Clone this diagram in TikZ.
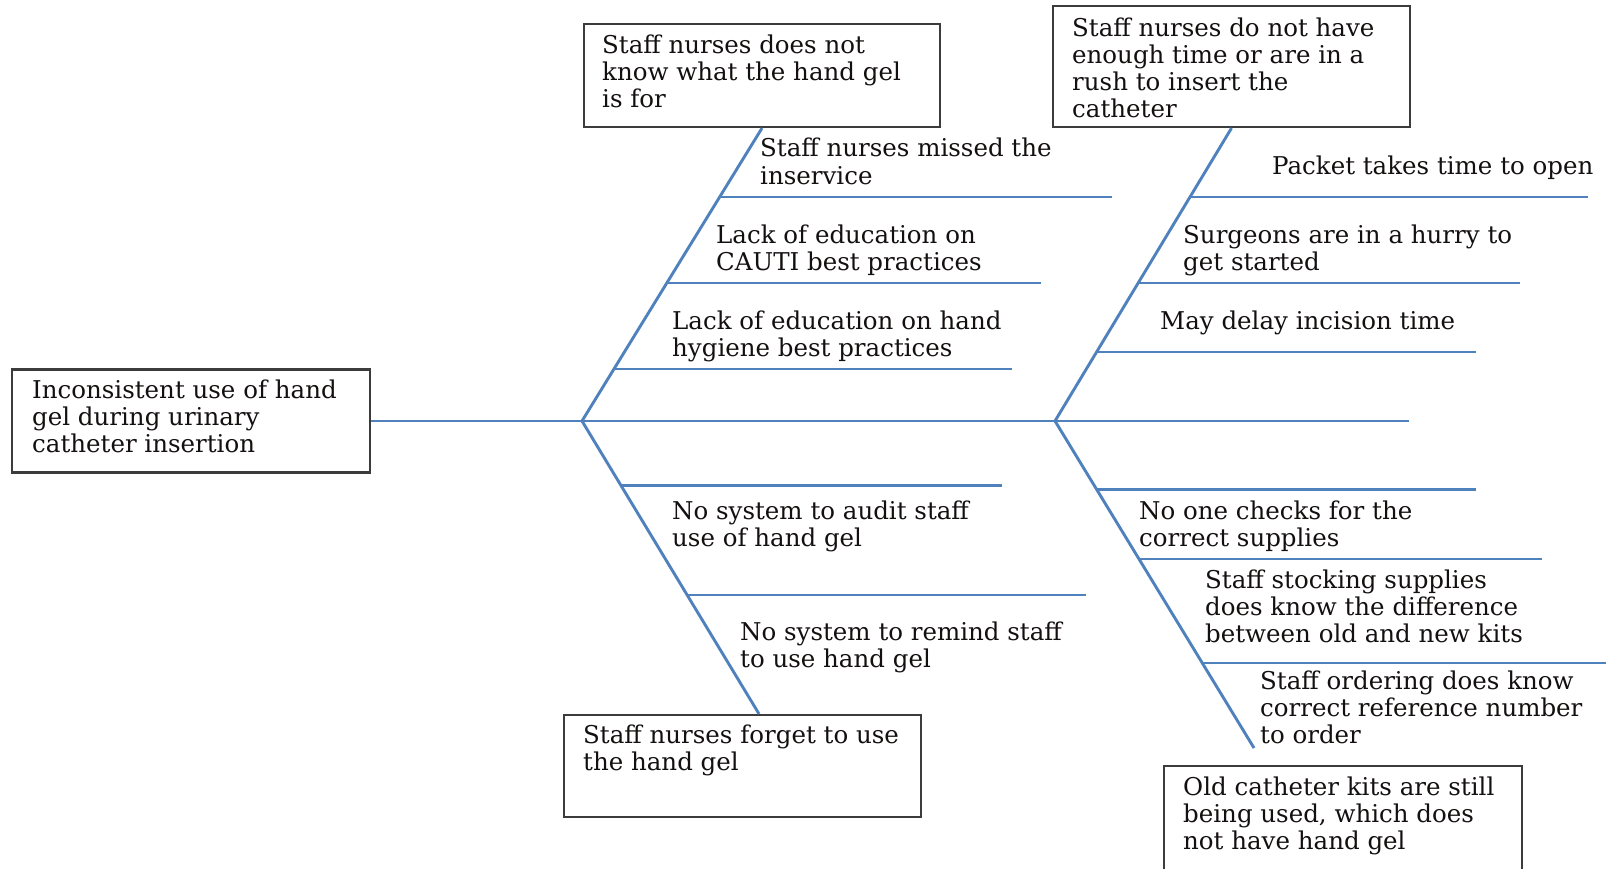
\documentclass[tikz,border=0pt]{standalone}
\usepackage{fontspec}
\setmainfont{DejaVu Serif}
\usetikzlibrary{calc}
\definecolor{bone}{RGB}{79,129,189}
\definecolor{boxline}{RGB}{60,60,60}
\definecolor{txt}{RGB}{20,16,16}
\begin{document}
\begin{tikzpicture}[x=1pt,y=-1pt,
  every node/.style={font=\fontsize{24.5}{27.2}\selectfont, text=txt},
  causebox/.style={draw=boxline, line width=2.2pt, inner sep=0pt, fill=white},
  lbl/.style={anchor=base west, align=left, inner sep=0pt},
  boneline/.style={draw=bone, line width=2.9pt},
  rib/.style={draw=bone, line width=2.9pt}]
\useasboundingbox (0,0) rectangle (1606,869);
% boxes
\node[causebox, minimum width=358pt, minimum height=103pt] (head) at (191,421) {};
\node[causebox, minimum width=356pt, minimum height=103pt] (bUL) at (762,75.5) {};
\node[causebox, minimum width=357pt, minimum height=121pt] (bUR) at (1231.5,66.5) {};
\node[causebox, minimum width=357pt, minimum height=102pt] (bLL) at (742.5,766) {};
\node[causebox, minimum width=358pt, minimum height=108pt] (bLR) at (1343,820) {};
% box texts (anchor = baseline of last line)
\node[lbl] (tHead) at (32,452.9) {Inconsistent use of hand\\gel during urinary\\catheter insertion};
\node[lbl] (tUL) at (602,107.9) {Staff nurses does not\\know what the hand gel\\is for};
\node[lbl] (tUR) at (1072,117.7) {Staff nurses do not have\\enough time or are in a\\rush to insert the\\catheter};
\node[lbl] (tLL) at (583,770.7) {Staff nurses forget to use\\the hand gel};
\node[lbl] (tLR) at (1183,849.4) {Old catheter kits are still\\being used, which does\\not have hand gel};
% spine
\coordinate (J1) at (582,421);
\coordinate (J2) at (1055,421);
\coordinate (spineEnd) at (1409,421);
\draw[boneline] (head.east) -- (J1) -- (J2) -- (spineEnd);
% bones
\coordinate (LLend) at ([xshift=16.5pt]bLL.north);
\coordinate (LRend) at (1254,748);
\draw[boneline] (J1) -- (bUL.south);
\draw[boneline] (J2) -- (bUR.south);
\draw[boneline] (J1) -- (LLend);
\draw[boneline] (J2) -- (LRend);
% ribs upper left
\coordinate (r1a) at (719,197); \coordinate (r1b) at (1112,197);
\coordinate (r2a) at (666,283); \coordinate (r2b) at (1041,283);
\coordinate (r3a) at (614,369); \coordinate (r3b) at (1012,369);
\draw[rib] (r1a) -- (r1b); \draw[rib] (r2a) -- (r2b); \draw[rib] (r3a) -- (r3b);
% ribs upper right
\coordinate (r4a) at (1189,197); \coordinate (r4b) at (1588,197);
\coordinate (r5a) at (1139,283); \coordinate (r5b) at (1520,283);
\coordinate (r6a) at (1097,352); \coordinate (r6b) at (1476,352);
\draw[rib] (r4a) -- (r4b); \draw[rib] (r5a) -- (r5b); \draw[rib] (r6a) -- (r6b);
% ribs lower left
\coordinate (r7a) at (622,485.5); \coordinate (r7b) at (1002,485.5);
\coordinate (r8a) at (688,595); \coordinate (r8b) at (1086,595);
\draw[rib] (r7a) -- (r7b); \draw[rib] (r8a) -- (r8b);
% ribs lower right
\coordinate (r9a) at (1097,489.5); \coordinate (r9b) at (1476,489.5);
\coordinate (r10a) at (1139,559); \coordinate (r10b) at (1542,559);
\coordinate (r11a) at (1202,663); \coordinate (r11b) at (1606,663);
\draw[rib] (r9a) -- (r9b); \draw[rib] (r10a) -- (r10b); \draw[rib] (r11a) -- (r11b);
% rib labels (anchor = baseline of last line)
\node[lbl] (c1) at (760,184.2) {Staff nurses missed the\\inservice};
\node[lbl] (c2) at (716,270.2) {Lack of education on\\CAUTI best practices};
\node[lbl] (c3) at (672,356.2) {Lack of education on hand\\hygiene best practices};
\node[lbl] (c4) at (1272,174.5) {Packet takes time to open};
\node[lbl] (c5) at (1183,270.2) {Surgeons are in a hurry to\\get started};
\node[lbl] (c6) at (1160,329) {May delay incision time};
\node[lbl] (c7) at (672,546.7) {No system to audit staff\\use of hand gel};
\node[lbl] (c8) at (740,667.7) {No system to remind staff\\to use hand gel};
\node[lbl] (c9) at (1139,546.7) {No one checks for the\\correct supplies};
\node[lbl] (c10) at (1205,642.9) {Staff stocking supplies\\does know the difference\\between old and new kits};
\node[lbl] (c11) at (1260,743.9) {Staff ordering does know\\correct reference number\\to order};
\end{tikzpicture}
\end{document}
